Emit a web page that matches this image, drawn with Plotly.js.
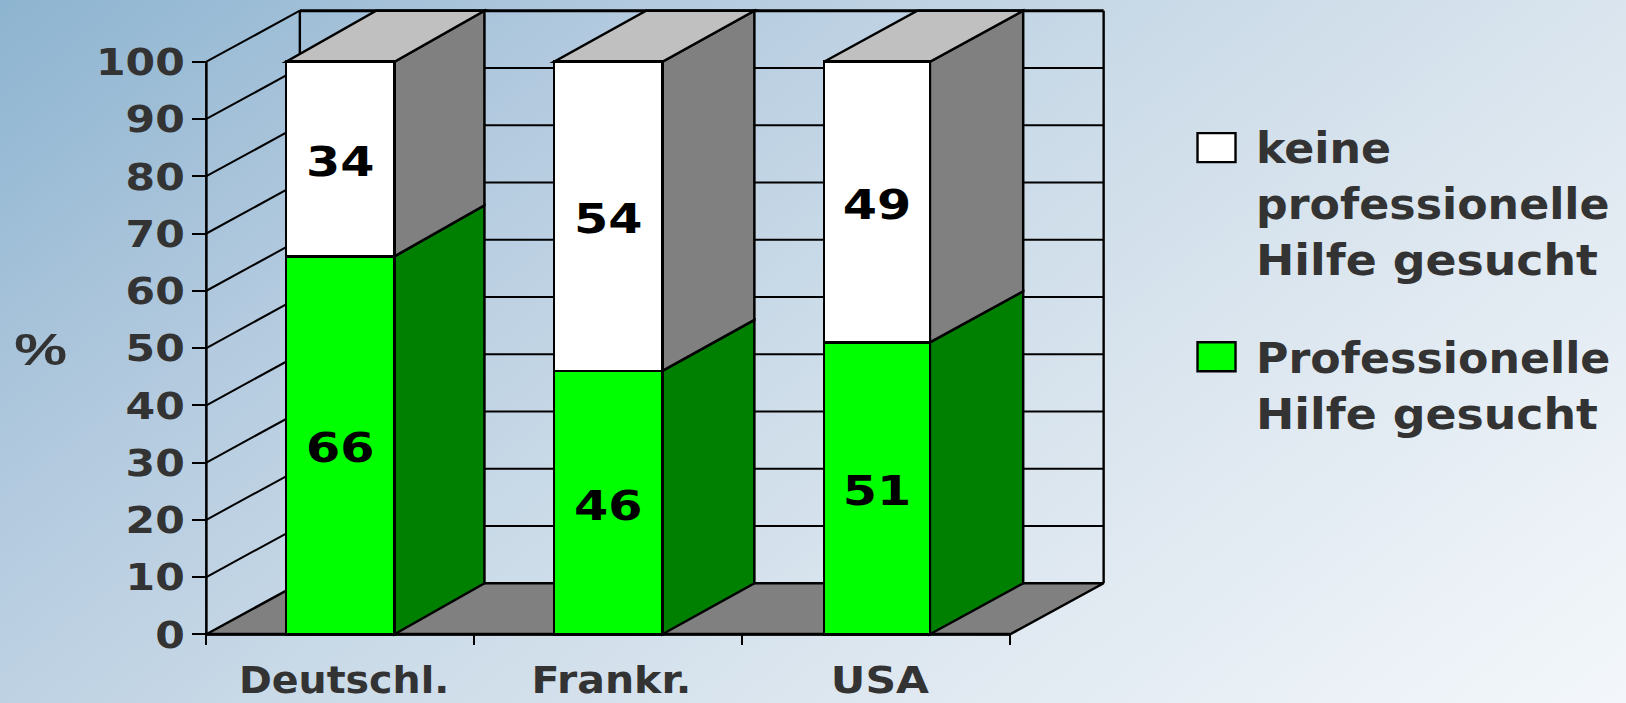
<!DOCTYPE html>
<html>
<head>
<meta charset="utf-8">
<script src="https://cdn.plot.ly/plotly-3.0.1.min.js"></script>
<style>
html,body{margin:0;padding:0;width:1626px;height:703px;overflow:hidden;
background:linear-gradient(142deg,#8db4d0 0%,#b3cadf 26%,#cbdbe8 48%,#e0e9f1 72%,#f3f7fb 100%);}
#chart{width:1626px;height:703px;}
</style>
</head>
<body>
<div id="chart"></div>
<script>
// ---- data ----
const categories = ['Deutschl.', 'Frankr.', 'USA'];
const barCentres = [0.5, 1.5, 2.503];
const professionelle = [66, 46, 51];
const keineHilfe = [34, 54, 49];
const yTicks = [0, 10, 20, 30, 40, 50, 60, 70, 80, 90, 100];
const xBoundaries = [0, 1, 2, 3];
const labelPositions = [0.514, 1.512, 2.514];
const legendPro = 'Professionelle<br>Hilfe gesucht';
const legendKeine = 'keine<br>professionelle<br>Hilfe gesucht';

// ---- geometry ----
const W = 1626, H = 703;
const pxX = 268, pxY = 5.724;          // pixels per axis unit
const x0px = 206.6, y0px = 634;        // pixel position of data origin
const wallDX = 93.5 / pxX, wallDY = 51 / pxY;   // depth offset of back wall
const barDepths = [90 / pxX, 92 / pxX, 93.3 / pxX];
const barWidths = [0.404, 0.404, 0.395];
const padX = 0.02, padY = 1;
const xMin = -padX, xMax = 3 + wallDX + padX;
const yMin = -padY, yMax = 100 + wallDY + padY;
const mL = x0px - padX * pxX;
const mR = W - (x0px + (3 + wallDX + padX) * pxX);
const mB = H - (y0px + padY * pxY);
const mT = y0px - (100 + wallDY + padY) * pxY;
const plotW = W - mL - mR, plotH = H - mT - mB;
const paperX = p => (p - mL) / plotW;
const paperY = p => 1 - (p - mT) / plotH;

// ---- faces ----
const BLK = '#000';
const shapes = [];
const line = (x1, y1, x2, y2, w) => shapes.push({type:'line', xref:'x', yref:'y', layer:'below',
  x0:x1, y0:y1, x1:x2, y1:y2, line:{color:BLK, width:w || 2}});
const poly = (pts, fill) => shapes.push({type:'path', xref:'x', yref:'y', layer:'below',
  path:'M' + pts.map(p => p[0] + ' ' + p[1]).join('L') + 'Z',
  fillcolor:fill, line:{color:BLK, width:2.5}});

// floor
poly([[0,0],[3,0],[3+wallDX,wallDY],[wallDX,wallDY]], '#808080');
// walls: grid lines
yTicks.forEach(v => {
  if (v > 0) line(0, v, wallDX, v + wallDY);
  if (v > 0) line(wallDX, v + wallDY, 3 + wallDX, v + wallDY, v === 100 ? 3 : 2);
});
line(wallDX, wallDY, wallDX, 100 + wallDY, 2.4);
line(3 + wallDX, wallDY, 3 + wallDX, 100 + wallDY, 2.4);
// axis lines
line(0, 0, 0, 100, 2.6);
line(0, 0, 3, 0, 3);

// bar side and top faces
barCentres.forEach((c, i) => {
  const r = c + barWidths[i] / 2, l = c - barWidths[i] / 2, d = barDepths[i];
  const split = professionelle[i];
  const top = split + keineHilfe[i];
  poly([[r,0],[r+d,wallDY],[r+d,split+wallDY],[r,split]], '#008000');
  poly([[r,split],[r+d,split+wallDY],[r+d,top+wallDY],[r,top]], '#808080');
  poly([[l,top],[r,top],[r+d,top+wallDY],[l+d,top+wallDY]], '#c0c0c0');
});

// legend swatches
const swatch = (pxLeft, pxTop, fill) => shapes.push({type:'rect', xref:'paper', yref:'paper',
  x0:paperX(pxLeft), x1:paperX(pxLeft+38), y0:paperY(pxTop), y1:paperY(pxTop+29),
  fillcolor:fill, line:{color:BLK, width:2.4}});
swatch(1198, 133, '#ffffff');
swatch(1198, 342, '#00ff00');

const FONT = 'DejaVu Sans';
const txt = (size, color, family) => ({family:family || FONT, size:size, color:color, weight:700});

const legendNote = (text, pxTop) => ({xref:'paper', yref:'paper', x:paperX(1254), y:paperY(pxTop),
  xanchor:'left', yanchor:'top', align:'left', showarrow:false, text:text, font:txt(43, '#333333')});

const annotations = [
  legendNote(legendKeine, 121),
  legendNote(legendPro, 331),
  {xref:'paper', yref:'paper', x:paperX(41), y:paperY(349), xanchor:'center', yanchor:'middle',
   showarrow:false, text:'%', font:txt(44, '#333333', 'Liberation Sans')}
];

const traces = [
  {type:'bar', name:'Professionelle Hilfe gesucht', x:barCentres, y:professionelle, width:barWidths,
   marker:{color:'#00ff00', line:{color:BLK, width:2.5}},
   text:professionelle.map(String), textposition:'inside', insidetextanchor:'middle', textangle:0,
   constraintext:'none', textfont:txt(41, '#000000'), hoverinfo:'x+y', showlegend:false},
  {type:'bar', name:'keine professionelle Hilfe gesucht', x:barCentres, y:keineHilfe, width:barWidths,
   marker:{color:'#ffffff', line:{color:BLK, width:2.5}},
   text:keineHilfe.map(String), textposition:'inside', insidetextanchor:'middle', textangle:0,
   constraintext:'none', textfont:txt(41, '#000000'), hoverinfo:'x+y', showlegend:false}
];

const layout = {
  width:W, height:H, autosize:false,
  margin:{l:mL, r:mR, t:mT, b:mB, pad:0},
  paper_bgcolor:'rgba(0,0,0,0)', plot_bgcolor:'rgba(0,0,0,0)',
  barmode:'stack', showlegend:false,
  xaxis:{range:[xMin,xMax], anchor:'free', position:padY*pxY/plotH, showgrid:false, zeroline:false, showline:false,
    tickmode:'array', tickvals:labelPositions, ticktext:categories, ticks:'',
    minor:{tickmode:'array', tickvals:xBoundaries, ticks:'outside', ticklen:10, tickwidth:2, tickcolor:BLK, showgrid:false},
    tickfont:txt(38, '#333333'), automargin:false, fixedrange:true, ticklabelstandoff:20},
  yaxis:{range:[yMin,yMax], anchor:'free', position:padX*pxX/plotW, showgrid:false, zeroline:false, showline:false,
    tickmode:'array', tickvals:yTicks, ticks:'outside', ticklen:14, tickwidth:2, tickcolor:BLK,
    tickfont:txt(38, '#333333'), automargin:false, fixedrange:true},
  shapes:shapes, annotations:annotations
};

// The reference lettering is set wider than the installed fonts: widen the glyphs only.
function widen(el, factor) {
  const len = el.getComputedTextLength();
  if (!len) return;
  el.setAttribute('lengthAdjust', 'spacingAndGlyphs');
  el.setAttribute('textLength', (len * factor).toFixed(1));
}
function stretchText(gd) {
  gd.querySelectorAll('.ytick text').forEach(t => widen(t, 1.12));
  const xf = [1.04, 1.08, 1.12];
  gd.querySelectorAll('.xtick text').forEach((t, i) => widen(t, xf[i % 3]));
  gd.querySelectorAll('.bars .bartext text, text.bartext').forEach(t => {
    widen(t, 1.2);
    t.setAttribute('dy', '3');
  });
  gd.querySelectorAll('.annotation-text').forEach(t => {
    const lines = t.querySelectorAll('tspan.line');
    if (lines.length) lines.forEach(s => widen(s, s.textContent.startsWith('Hilfe') ? 1.065 : 1.03));
    else if (t.textContent === '%') widen(t, 1.35);
    else widen(t, 1.03);
  });
}
Plotly.newPlot('chart', traces, layout, {displayModeBar:false, responsive:false, staticPlot:true})
  .then(stretchText);
</script>
</body>
</html>
